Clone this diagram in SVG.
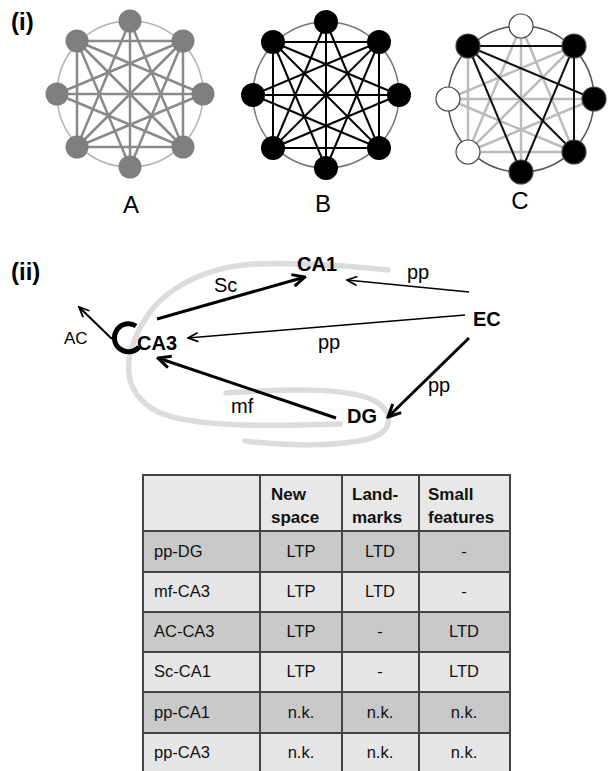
<svg xmlns="http://www.w3.org/2000/svg" width="610" height="771" viewBox="0 0 610 771">
<defs>
<style>
.lbl{font-family:"Liberation Sans",Arial,sans-serif;fill:#000}
.b{font-weight:bold}
.ga-e{stroke:#8a8a8a;stroke-width:2.5;fill:none}
.gb-e{stroke:#000;stroke-width:2;fill:none}
.gc-g{stroke:#bcbcbc;stroke-width:2.5;fill:none}
.gc-k{stroke:#111;stroke-width:2;fill:none}
.hip{fill:none;stroke:#dcdcdc;stroke-width:5.5;stroke-linecap:round}
.cell{font-family:"Liberation Sans",Arial,sans-serif;font-size:16.5px;fill:#111}
.hd{font-family:"Liberation Sans",Arial,sans-serif;font-size:17px;font-weight:bold;fill:#111}
.grid{stroke:#444;stroke-width:2;fill:none}
</style>
<marker id="ah1" viewBox="0 0 12 12" refX="11" refY="6" markerWidth="12" markerHeight="12" markerUnits="userSpaceOnUse" orient="auto"><path d="M1 1.5 L11 6 L1 10.5" fill="none" stroke="#000" stroke-width="1.8"/></marker>
<marker id="ah3" viewBox="0 0 16 16" refX="14.5" refY="8" markerWidth="16" markerHeight="16" markerUnits="userSpaceOnUse" orient="auto"><path d="M2 2 L14.5 8 L2 14" fill="none" stroke="#000" stroke-width="3"/></marker>
</defs>

<text class="lbl b" x="11" y="30" font-size="24">(i)</text>

<!-- Graph A -->
<g id="graphA">
<circle cx="130" cy="94" r="73" fill="none" stroke="#b4b4b4" stroke-width="1.5"/>
<g class="ga-e">
<line x1="77" y1="41" x2="183" y2="41"/><line x1="183" y1="41" x2="183" y2="147"/><line x1="183" y1="147" x2="77" y2="147"/><line x1="77" y1="147" x2="77" y2="41"/>
<line x1="77" y1="41" x2="183" y2="147"/><line x1="183" y1="41" x2="77" y2="147"/>
<line x1="130" y1="21" x2="130" y2="167"/><line x1="57" y1="94" x2="203" y2="94"/>
<line x1="130" y1="21" x2="183" y2="147"/><line x1="130" y1="21" x2="77" y2="147"/>
<line x1="183" y1="41" x2="130" y2="167"/><line x1="183" y1="41" x2="57" y2="94"/>
<line x1="203" y1="94" x2="77" y2="147"/><line x1="203" y1="94" x2="77" y2="41"/>
<line x1="183" y1="147" x2="57" y2="94"/><line x1="130" y1="167" x2="77" y2="41"/>
</g>
<g fill="#7f7f7f">
<circle cx="130" cy="21" r="11.5"/><circle cx="183" cy="41" r="11.5"/><circle cx="203" cy="94" r="11.5"/><circle cx="183" cy="147" r="11.5"/>
<circle cx="130" cy="167" r="11.5"/><circle cx="77" cy="147" r="11.5"/><circle cx="57" cy="94" r="11.5"/><circle cx="77" cy="41" r="11.5"/>
</g>
<text class="lbl" x="131" y="213" font-size="24" text-anchor="middle">A</text>
</g>

<!-- Graph B -->
<g id="graphB">
<circle cx="326" cy="95" r="73" fill="none" stroke="#777" stroke-width="1.5"/>
<g class="gb-e">
<line x1="273" y1="42" x2="379" y2="42"/><line x1="379" y1="42" x2="379" y2="148"/><line x1="379" y1="148" x2="273" y2="148"/><line x1="273" y1="148" x2="273" y2="42"/>
<line x1="273" y1="42" x2="379" y2="148"/><line x1="379" y1="42" x2="273" y2="148"/>
<line x1="326" y1="22" x2="326" y2="168"/><line x1="253" y1="95" x2="399" y2="95"/>
<line x1="326" y1="22" x2="379" y2="148"/><line x1="326" y1="22" x2="273" y2="148"/>
<line x1="379" y1="42" x2="326" y2="168"/><line x1="379" y1="42" x2="253" y2="95"/>
<line x1="399" y1="95" x2="273" y2="148"/><line x1="399" y1="95" x2="273" y2="42"/>
<line x1="379" y1="148" x2="253" y2="95"/><line x1="326" y1="168" x2="273" y2="42"/>
</g>
<g fill="#000">
<circle cx="326" cy="22" r="12"/><circle cx="379" cy="42" r="12"/><circle cx="399" cy="95" r="12"/><circle cx="379" cy="148" r="12"/>
<circle cx="326" cy="168" r="12"/><circle cx="273" cy="148" r="12"/><circle cx="253" cy="95" r="12"/><circle cx="273" cy="42" r="12"/>
</g>
<text class="lbl" x="323" y="212" font-size="24" text-anchor="middle">B</text>
</g>

<!-- Graph C -->
<g id="graphC">
<circle cx="521" cy="99" r="73" fill="none" stroke="#555" stroke-width="1.5"/>
<g class="gc-g">
<line x1="574" y1="152" x2="468" y2="152"/><line x1="468" y1="152" x2="468" y2="46"/>
<line x1="574" y1="46" x2="468" y2="152"/>
<line x1="521" y1="26" x2="521" y2="172"/><line x1="448" y1="99" x2="594" y2="99"/>
<line x1="521" y1="26" x2="574" y2="152"/><line x1="521" y1="26" x2="468" y2="152"/>
<line x1="574" y1="46" x2="448" y2="99"/>
<line x1="594" y1="99" x2="468" y2="152"/>
<line x1="574" y1="152" x2="448" y2="99"/>
</g>
<g class="gc-k">
<line x1="468" y1="46" x2="574" y2="46"/><line x1="574" y1="46" x2="574" y2="152"/>
<line x1="468" y1="46" x2="574" y2="152"/><line x1="468" y1="46" x2="594" y2="99"/>
<line x1="468" y1="46" x2="521" y2="172"/><line x1="574" y1="46" x2="521" y2="172"/>
</g>
<g stroke="#444" stroke-width="1.2">
<circle cx="521" cy="26" r="12" fill="#fff"/><circle cx="574" cy="46" r="12" fill="#000"/><circle cx="594" cy="99" r="12" fill="#000"/><circle cx="574" cy="152" r="12" fill="#000"/>
<circle cx="521" cy="172" r="12" fill="#000"/><circle cx="468" cy="152" r="12" fill="#fff"/><circle cx="448" cy="99" r="12" fill="#fff"/><circle cx="468" cy="46" r="12" fill="#000"/>
</g>
<text class="lbl" x="520" y="209" font-size="24" text-anchor="middle">C</text>
</g>

<text class="lbl b" x="11" y="280" font-size="24">(ii)</text>

<!-- hippocampus outline -->
<g id="hippocampus">
<path class="hip" d="M388 270 C350 266 300 262 255 264 C205 267 165 288 146 318 C122 356 120 392 158 412 C195 428 270 426 340 424"/>
<path class="hip" d="M226 393 C285 389 345 387 373 400 C396 412 393 432 368 439 C335 447 285 446 245 441"/>
</g>

<!-- connectors -->
<g id="connectors">
<line x1="157" y1="319" x2="305" y2="277" stroke="#000" stroke-width="3" marker-end="url(#ah3)"/>
<line x1="469" y1="292" x2="347" y2="280" stroke="#000" stroke-width="1.5" marker-end="url(#ah1)"/>
<line x1="465" y1="315" x2="188" y2="338" stroke="#000" stroke-width="1.5" marker-end="url(#ah1)"/>
<line x1="469" y1="338" x2="388" y2="417" stroke="#000" stroke-width="3" marker-end="url(#ah3)"/>
<line x1="336" y1="418" x2="158" y2="358" stroke="#000" stroke-width="3" marker-end="url(#ah3)"/>
<line x1="112" y1="339" x2="79" y2="307" stroke="#000" stroke-width="2" marker-end="url(#ah1)"/>
<path d="M136 326 A14 14 0 1 0 139 347" fill="none" stroke="#000" stroke-width="5"/>
<text class="lbl" x="214" y="292" font-size="20">Sc</text>
<text class="lbl" x="407" y="279" font-size="20">pp</text>
<text class="lbl" x="318" y="349" font-size="20">pp</text>
<text class="lbl" x="428" y="392" font-size="20">pp</text>
<text class="lbl" x="231" y="413" font-size="20">mf</text>
<text class="lbl" x="64" y="344" font-size="17">AC</text>
</g>

<g id="CA1"><text class="lbl b" x="297" y="271" font-size="20">CA1</text></g>
<g id="CA3"><text class="lbl b" x="137" y="350" font-size="20">CA3</text></g>
<g id="EC"><text class="lbl b" x="473" y="326" font-size="20">EC</text></g>
<g id="DG"><text class="lbl b" x="347" y="423" font-size="20">DG</text></g>

<!-- table -->
<g id="table">
<rect x="143" y="475" width="367" height="56" fill="#e8e8e8"/>
<rect x="143" y="531" width="367" height="41" fill="#c9c9c9"/>
<rect x="143" y="572" width="367" height="40" fill="#e6e6e6"/>
<rect x="143" y="612" width="367" height="40" fill="#c9c9c9"/>
<rect x="143" y="652" width="367" height="40" fill="#e6e6e6"/>
<rect x="143" y="692" width="367" height="41" fill="#c9c9c9"/>
<rect x="143" y="733" width="367" height="40" fill="#e6e6e6"/>
<g class="grid">
<rect x="143" y="475" width="367" height="298"/>
<line x1="260" y1="475" x2="260" y2="773"/><line x1="342" y1="475" x2="342" y2="773"/><line x1="419" y1="475" x2="419" y2="773"/>
<line x1="143" y1="531" x2="510" y2="531"/><line x1="143" y1="572" x2="510" y2="572"/><line x1="143" y1="612" x2="510" y2="612"/>
<line x1="143" y1="652" x2="510" y2="652"/><line x1="143" y1="692" x2="510" y2="692"/><line x1="143" y1="733" x2="510" y2="733"/>
</g>
<text class="hd" x="271" y="500">New</text><text class="hd" x="271" y="523">space</text>
<text class="hd" x="352" y="500">Land-</text><text class="hd" x="352" y="523">marks</text>
<text class="hd" x="428" y="500">Small</text><text class="hd" x="428" y="523">features</text>
<g class="cell">
<text x="154" y="557">pp-DG</text><text x="301" y="557" text-anchor="middle">LTP</text><text x="380" y="557" text-anchor="middle">LTD</text><text x="464" y="557" text-anchor="middle">-</text>
<text x="154" y="597">mf-CA3</text><text x="301" y="597" text-anchor="middle">LTP</text><text x="380" y="597" text-anchor="middle">LTD</text><text x="464" y="597" text-anchor="middle">-</text>
<text x="154" y="637">AC-CA3</text><text x="301" y="637" text-anchor="middle">LTP</text><text x="380" y="637" text-anchor="middle">-</text><text x="464" y="637" text-anchor="middle">LTD</text>
<text x="154" y="677">Sc-CA1</text><text x="301" y="677" text-anchor="middle">LTP</text><text x="380" y="677" text-anchor="middle">-</text><text x="464" y="677" text-anchor="middle">LTD</text>
<text x="154" y="718">pp-CA1</text><text x="301" y="718" text-anchor="middle">n.k.</text><text x="380" y="718" text-anchor="middle">n.k.</text><text x="464" y="718" text-anchor="middle">n.k.</text>
<text x="154" y="758">pp-CA3</text><text x="301" y="758" text-anchor="middle">n.k.</text><text x="380" y="758" text-anchor="middle">n.k.</text><text x="464" y="758" text-anchor="middle">n.k.</text>
</g>
</g>
</svg>
